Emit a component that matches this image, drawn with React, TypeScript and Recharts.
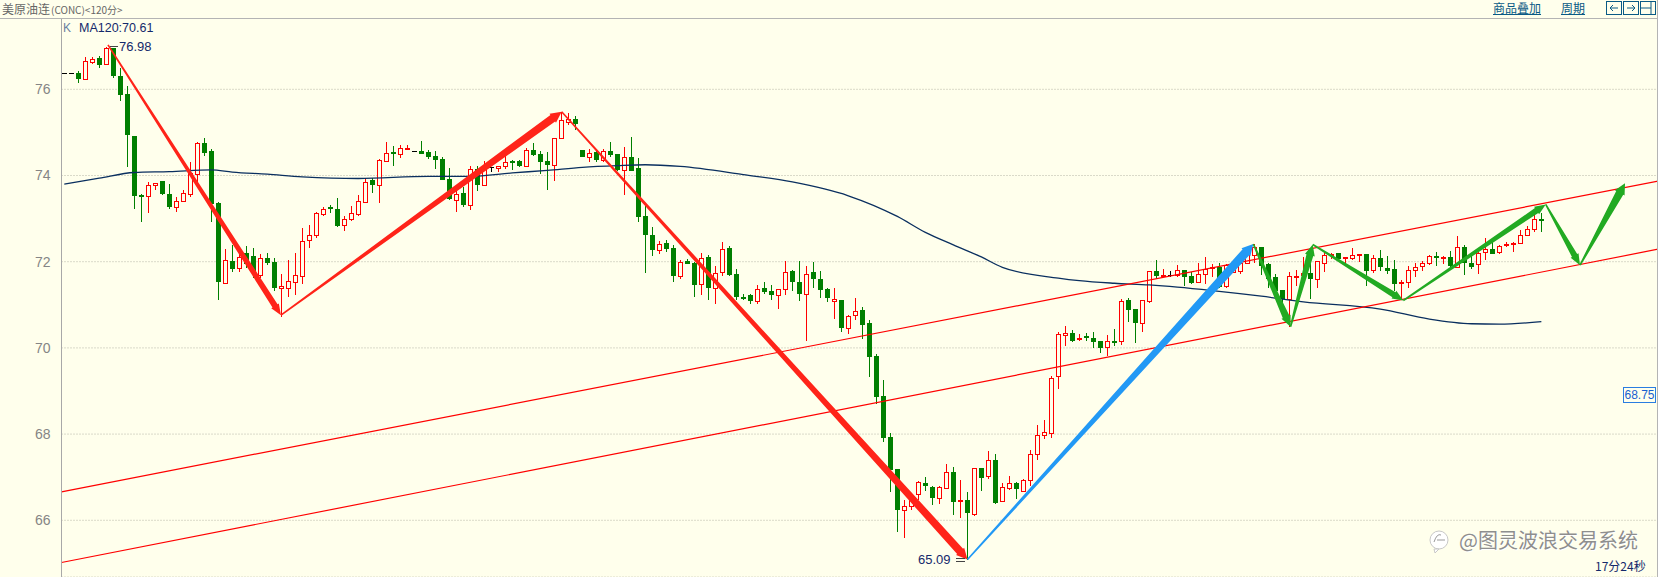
import { ComposedChart, Bar, Line, XAxis, YAxis, CartesianGrid, ReferenceLine } from 'recharts'

const WIDTH = 1658
const HEIGHT = 577
const BG = '#FFFFEC'

// two flat bars at the left edge, then the 120 minute candles
const opens = [
  76.37, 76.37,
  76.37, 76.25, 76.64, 76.72, 76.58, 76.95, 76.32, 75.88, 74.92, 73.54,
  73.52, 73.79, 73.87, 73.57, 73.28, 73.42, 73.56, 74.03, 74.75, 74.57,
  73.36, 71.51, 72.02, 71.85, 72.2, 72.13, 71.68, 72.08, 71.99, 71.38,
  71.4, 71.54, 71.66, 72.51, 72.63, 73.11, 73.27, 73.22, 72.84, 72.98,
  73.1, 73.39, 73.89, 73.78, 74.34, 74.54, 74.51, 74.61, 74.56, 74.56,
  74.54, 74.45, 74.38, 73.91, 73.44, 73.59, 73.32, 74.14, 73.78, 74.19,
  74.18, 74.22, 74.34, 74.33, 74.22, 74.59, 74.49, 74.33, 74.25, 74.88,
  75.25, 75.31, 74.59, 74.43, 74.54, 74.36, 74.56, 74.49, 74.13, 74.43,
  74.17, 73.05, 72.61, 72.28, 72.43, 72.31, 71.67, 72.01, 71.96, 71.49,
  72.1, 71.4, 71.77, 72.31, 71.71, 71.19, 71.22, 71.09, 71.38, 71.31,
  71.22, 71.37, 71.78, 71.54, 71.25, 71.75, 71.61, 71.36, 71.09, 71.1,
  70.47, 70.76, 70.89, 70.57, 69.82, 68.89, 67.94, 67.2, 66.23, 66.32,
  66.61, 66.86, 66.78, 66.51, 66.76, 67.12, 66.44, 66.48, 66.14, 67.22,
  67.02, 67.4, 66.45, 66.74, 66.87, 66.69, 66.93, 67.54, 67.98, 68.02,
  69.34, 70.31, 70.34, 70.2, 70.27, 70.23, 70.16, 70.02, 70.17, 70.16,
  71.1, 70.91, 70.57, 71.09, 71.79, 71.66, 71.68, 71.7, 71.81, 71.67,
  71.52, 71.71, 71.85, 71.87, 71.43, 71.75, 71.79, 71.98, 72.16, 72.33,
  71.95, 71.64, 71.35, 71.13, 71.64, 71.7, 71.74, 71.61, 71.98, 72.16,
  72.21, 72.08, 72.09, 72.15, 72.18, 71.8, 72.09, 71.85, 71.84, 71.5,
  71.52, 71.8, 71.89, 71.96, 72.13, 72.08, 72.12, 71.87, 72.35, 71.98,
  71.95, 72.22, 72.29, 72.22, 72.4, 72.41, 72.43, 72.62, 72.76, 72.99,
]

const closes = [
  76.37, 76.37,
  76.25, 76.65, 76.71, 76.57, 76.95, 76.31, 75.87, 74.95, 73.53, 73.49,
  73.77, 73.82, 73.57, 73.27, 73.42, 73.59, 74.05, 74.75, 74.53, 73.34,
  71.54, 72.03, 71.84, 72.12, 71.95, 71.73, 72.08, 71.96, 71.38, 71.43,
  71.56, 71.68, 72.49, 72.63, 73.12, 73.23, 73.23, 72.82, 73.0, 73.14,
  73.4, 73.86, 73.78, 74.35, 74.53, 74.5, 74.63, 74.63, 74.56, 74.5,
  74.43, 74.36, 73.89, 73.45, 73.58, 73.31, 74.14, 73.78, 74.19, 74.19,
  74.23, 74.32, 74.3, 74.22, 74.59, 74.47, 74.31, 74.24, 74.88, 75.28,
  75.3, 75.19, 74.43, 74.53, 74.36, 74.56, 74.47, 74.12, 74.44, 74.11,
  73.04, 72.62, 72.27, 72.42, 72.29, 71.66, 72.0, 71.95, 71.46, 72.09,
  71.39, 71.74, 72.3, 71.69, 71.18, 71.16, 71.09, 71.37, 71.29, 71.22,
  71.37, 71.77, 71.53, 71.25, 71.72, 71.6, 71.34, 71.16, 71.14, 70.46,
  70.74, 70.85, 70.54, 69.8, 68.87, 67.92, 67.17, 66.23, 66.33, 66.5,
  66.89, 66.79, 66.51, 66.77, 67.12, 66.42, 66.47, 66.16, 67.21, 66.99,
  67.4, 66.41, 66.77, 66.86, 66.72, 66.93, 67.54, 67.98, 68.04, 69.3,
  70.32, 70.34, 70.17, 70.23, 70.25, 70.13, 69.99, 70.16, 70.15, 71.09,
  70.89, 70.57, 71.1, 71.79, 71.66, 71.69, 71.68, 71.81, 71.65, 71.5,
  71.72, 71.83, 71.87, 71.42, 71.92, 71.95, 71.97, 72.18, 72.33, 71.91,
  71.6, 71.33, 71.13, 71.67, 71.67, 71.73, 71.6, 72.02, 72.15, 72.18,
  72.06, 72.12, 72.15, 72.18, 71.79, 72.09, 71.88, 71.79, 71.49, 71.54,
  71.81, 71.88, 71.97, 72.13, 72.09, 72.12, 71.91, 72.34, 71.96, 71.88,
  72.2, 72.29, 72.19, 72.36, 72.42, 72.44, 72.62, 72.76, 72.99, 72.94,
]

const highs = [
  76.37, 76.37,
  76.43, 76.74, 76.74, 76.77, 76.98, 76.96, 76.49, 76.08, 74.92, 73.56,
  73.84, 73.82, 73.87, 73.8, 73.49, 73.66, 74.31, 74.77, 74.87, 74.62,
  73.39, 72.29, 72.38, 72.35, 72.36, 72.32, 72.18, 72.2, 72.08, 71.72,
  72.04, 72.21, 72.78, 72.86, 73.16, 73.26, 73.31, 73.47, 73.07, 73.29,
  73.54, 73.95, 73.94, 74.39, 74.77, 74.68, 74.7, 74.7, 74.56, 74.8,
  74.6, 74.56, 74.42, 74.17, 73.7, 73.73, 74.23, 74.22, 74.33, 74.19,
  74.23, 74.45, 74.37, 74.37, 74.63, 74.75, 74.58, 74.55, 74.88, 75.48,
  75.44, 75.38, 74.6, 74.62, 74.57, 74.62, 74.77, 74.49, 74.65, 74.9,
  74.4, 73.3, 72.8, 72.49, 72.5, 72.38, 72.05, 72.07, 71.99, 72.2,
  72.15, 71.89, 72.45, 72.36, 71.84, 71.26, 71.24, 71.46, 71.52, 71.45,
  71.37, 72.01, 71.8, 72.02, 71.91, 72.0, 71.78, 71.38, 71.4, 71.1,
  70.77, 71.15, 70.95, 70.65, 69.86, 69.26, 68.02, 67.2, 66.48, 66.63,
  66.92, 67.0, 66.8, 66.8, 67.31, 67.23, 66.94, 66.66, 67.21, 67.22,
  67.61, 67.54, 66.87, 67.03, 66.89, 66.96, 67.64, 68.21, 68.32, 69.35,
  70.37, 70.51, 70.41, 70.33, 70.34, 70.38, 70.16, 70.29, 70.44, 71.14,
  71.16, 70.91, 71.1, 71.79, 72.03, 71.83, 71.79, 71.93, 71.81, 71.75,
  71.96, 72.12, 71.95, 71.97, 71.95, 72.02, 72.06, 72.22, 72.41, 72.33,
  71.98, 71.71, 71.35, 71.75, 71.81, 72.12, 72.2, 72.02, 72.25, 72.21,
  72.21, 72.12, 72.32, 72.18, 72.18, 72.15, 72.26, 72.14, 72.04, 71.57,
  71.9, 71.98, 72.01, 72.15, 72.23, 72.13, 72.24, 72.6, 72.39, 72.15,
  72.28, 72.56, 72.49, 72.39, 72.46, 72.46, 72.73, 72.83, 73.11, 73.14,
]

const lows = [
  76.37, 76.37,
  76.15, 76.25, 76.58, 76.49, 76.58, 76.27, 75.74, 74.2, 73.22, 72.93,
  73.14, 73.66, 73.55, 73.22, 73.15, 73.39, 73.51, 73.86, 74.46, 72.91,
  71.1, 71.49, 71.76, 71.75, 71.85, 71.62, 71.62, 71.92, 71.31, 70.72,
  71.18, 71.23, 71.49, 72.32, 72.55, 73.06, 73.13, 72.8, 72.72, 72.95,
  73.06, 73.36, 73.6, 73.37, 74.31, 74.22, 74.4, 74.59, 74.56, 74.5,
  74.38, 74.16, 73.89, 73.43, 73.16, 73.27, 73.2, 73.64, 73.78, 74.08,
  74.08, 74.15, 74.12, 74.19, 74.22, 74.45, 74.03, 73.66, 73.87, 74.88,
  75.17, 75.05, 74.43, 74.31, 74.31, 74.31, 74.43, 74.1, 73.55, 74.11,
  72.92, 71.74, 72.13, 72.18, 72.22, 71.53, 71.6, 71.95, 71.19, 71.22,
  71.12, 71.01, 71.66, 71.67, 71.1, 71.12, 71.01, 71.01, 71.24, 71.11,
  70.9, 71.22, 71.31, 71.09, 70.16, 71.4, 71.16, 71.06, 70.67, 70.38,
  70.32, 70.64, 70.2, 69.32, 68.7, 67.81, 66.65, 65.72, 65.58, 66.25,
  66.48, 66.67, 66.35, 66.38, 66.74, 66.13, 66.06, 65.09, 66.09, 66.69,
  66.96, 66.38, 66.43, 66.71, 66.5, 66.65, 66.79, 67.39, 67.88, 67.92,
  69.04, 70.05, 70.13, 70.15, 70.15, 70.0, 69.88, 69.82, 70.05, 70.06,
  70.61, 70.12, 70.36, 71.05, 71.6, 71.64, 71.64, 71.64, 71.44, 71.48,
  71.52, 71.48, 71.64, 71.4, 71.4, 71.75, 71.71, 71.95, 71.98, 71.68,
  71.4, 71.13, 70.87, 70.48, 71.44, 71.7, 71.13, 71.38, 71.75, 72.06,
  72.04, 71.93, 72.04, 72.0, 71.44, 71.74, 71.79, 71.71, 71.33, 71.1,
  71.38, 71.64, 71.79, 71.93, 71.91, 71.95, 71.87, 71.85, 71.68, 71.82,
  71.71, 72.05, 72.18, 72.19, 72.33, 72.23, 72.43, 72.6, 72.68, 72.7,
]

// MA120, at these bar numbers
const maBars = [0, 5, 10, 15, 21, 24, 29, 34, 42, 52, 58, 64, 69, 74, 79, 83, 88, 97, 104, 112, 119, 123, 127, 131, 134, 142, 145, 150, 155, 159, 164, 171, 177, 188, 195, 201, 205, 211]
const maValues = [73.8, 73.94, 74.07, 74.09, 74.13, 74.08, 74.03, 73.97, 73.93, 73.98, 73.98, 74.06, 74.12, 74.19, 74.23, 74.25, 74.21, 74.02, 73.85, 73.53, 73.05, 72.68, 72.39, 72.11, 71.87, 71.62, 71.56, 71.5, 71.46, 71.41, 71.33, 71.2, 71.07, 70.9, 70.67, 70.56, 70.55, 70.61]

const priceTicks = [66, 68, 70, 72, 74, 76]

const tableData = opens.map((open, i) => {
  const m = maBars.indexOf(i)
  return {
    bar: i,
    open,
    close: closes[i],
    high: highs[i],
    low: lows[i],
    ma: m >= 0 ? maValues[m] : null,
  }
})

// wave legs as [bar, price] pairs, the price channel as two long lines
const channelUpper = [[-0.4, 66.66], [227.66, 73.87]]
const channelLower = [[-0.4, 65.02], [227.66, 72.29]]

const RED = '#FF2419'
const BLUE = '#2299F5'
const GREEN = '#22AA22'

const waves = [
  { from: [6.24, 77.03], to: [30.95, 70.76], color: RED, thick: 6 },
  { from: [30.95, 70.76], to: [71.05, 75.48], color: RED, thick: 8 },
  { from: [71.05, 75.48], to: [129.02, 65.09], color: RED, thick: 8 },
  { from: [129.02, 65.09], to: [169.85, 72.41], color: BLUE, thick: 9 },
  { from: [169.85, 72.41], to: [175.17, 70.49], color: GREEN, thick: 7 },
  { from: [175.17, 70.49], to: [178.34, 72.4], color: GREEN, thick: 7 },
  { from: [178.34, 72.4], to: [191.28, 71.1], color: GREEN, thick: 6 },
  { from: [191.28, 71.1], to: [211.62, 73.33], color: GREEN, thick: 6 },
  { from: [211.62, 73.33], to: [216.52, 71.92], color: GREEN, thick: 6 },
  { from: [216.52, 71.92], to: [222.95, 73.82], color: GREEN, thick: 8 },
]

function Candle(props: any) {
  const { x, y, width, height, payload } = props
  const { open, close, high, low } = payload
  const cx = Math.floor(x + width / 2) + 0.5
  const perUnit = high > low ? height / (high - low) : 0
  const yOpen = Math.round(y + (high - open) * perUnit)
  const yClose = Math.round(y + (high - close) * perUnit)
  const top = Math.min(yOpen, yClose)
  const bottom = Math.max(yOpen, yClose)
  const up = close > open
  const flat = close === open
  const color = flat ? '#000000' : up ? '#FF0000' : '#007F00'
  return (
    <g shapeRendering="crispEdges">
      <line x1={cx} x2={cx} y1={Math.round(y)} y2={Math.round(y + height)} stroke={color} />
      {flat ? (
        <line x1={cx - 2.5} x2={cx + 2.5} y1={top + 0.5} y2={top + 0.5} stroke={color} />
      ) : up ? (
        <rect x={cx - 2} y={top + 0.5} width={4} height={Math.max(bottom - top, 1)} fill={BG} stroke={color} />
      ) : (
        <rect x={cx - 2.5} y={top} width={5} height={Math.max(bottom - top, 2)} fill={color} />
      )}
    </g>
  )
}

// tapered leg: hair thin at the start, thick at the tip with small barbs
const waveShape = (color: string, thick: number) => (props: any) => {
  const { x1, y1, x2, y2 } = props
  const len = Math.hypot(x2 - x1, y2 - y1) || 1
  const ux = (x2 - x1) / len
  const uy = (y2 - y1) / len
  const nx = -uy
  const ny = ux
  const head = Math.min(11, len * 0.3)
  const bx = x2 - ux * head
  const by = y2 - uy * head
  const pts = [
    [x1 + nx * 0.8, y1 + ny * 0.8],
    [bx + (nx * thick) / 2, by + (ny * thick) / 2],
    [bx + (nx * (thick + 3)) / 2, by + (ny * (thick + 3)) / 2],
    [x2, y2],
    [bx - (nx * (thick + 3)) / 2, by - (ny * (thick + 3)) / 2],
    [bx - (nx * thick) / 2, by - (ny * thick) / 2],
    [x1 - nx * 0.8, y1 - ny * 0.8],
  ]
  return <polygon points={pts.map((p) => p.join(',')).join(' ')} fill={color} />
}

const abs = (left: number, top: number, extra: any = {}) => ({
  position: 'absolute' as const,
  left,
  top,
  whiteSpace: 'nowrap' as const,
  lineHeight: 1,
  ...extra,
})

const UI = '"Liberation Sans", sans-serif'
const CJK = '"Noto Sans CJK SC", sans-serif'

export default function App() {
  return (
    <div style={{ position: 'fixed', left: 0, top: 0, width: WIDTH, height: HEIGHT, background: BG, overflow: 'hidden' }}>
      <ComposedChart
        width={WIDTH}
        height={HEIGHT}
        data={tableData}
        margin={{ top: 18.5, right: 0, bottom: 0, left: 0 }}
        barGap={0}
      >
        <CartesianGrid vertical={false} stroke="#B4B4A6" strokeDasharray="1 2" />
        <XAxis type="number" dataKey="bar" domain={[-0.4, 227.66]} hide allowDataOverflow />
        <YAxis
          width={61.5}
          domain={[64.684, 77.643]}
          ticks={priceTicks}
          allowDataOverflow
          tickLine={false}
          stroke="#A8A8A8"
          tickMargin={5}
          tick={{ fill: '#858585', fontSize: 14, fontFamily: UI }}
        />
        <Bar
          dataKey={(d: any) => [d.low, d.high]}
          barSize={6}
          isAnimationActive={false}
          shape={Candle}
          minPointSize={0}
        />
        <Line
          dataKey="ma"
          type="monotone"
          stroke="#0A2F5F"
          strokeWidth={1.3}
          dot={false}
          activeDot={false}
          connectNulls
          isAnimationActive={false}
        />
        {[channelUpper, channelLower].map((c, i) => (
          <ReferenceLine
            key={i}
            segment={[{ x: c[0][0], y: c[0][1] }, { x: c[1][0], y: c[1][1] }]}
            stroke="#FF0000"
            strokeWidth={1.2}
            ifOverflow="visible"
          />
        ))}
        {waves.map((w, i) => (
          <ReferenceLine
            key={i}
            segment={[{ x: w.from[0], y: w.from[1] }, { x: w.to[0], y: w.to[1] }]}
            shape={waveShape(w.color, w.thick)}
            ifOverflow="visible"
          />
        ))}
      </ComposedChart>

      {/* window furniture */}
      <div style={abs(0, 18, { width: WIDTH, height: 1, background: '#B4B4B4' })} />
      <div style={abs(1657, 0, { width: 1, height: HEIGHT, background: '#B4B4B4' })} />
      <div style={abs(2, 3, { fontFamily: CJK, fontSize: 12, color: '#666' })}>
        美原油连<span style={{ fontSize: 10, marginLeft: 1 }}>(CONC)&lt;120分&gt;</span>
      </div>
      <div style={abs(63, 22, { fontFamily: UI, fontSize: 12, color: '#6A7FA0' })}>K</div>
      <div style={abs(79, 22, { fontFamily: UI, fontSize: 12.5, color: '#14296B' })}>MA120:70.61</div>
      <div style={abs(110, 46, { width: 8, height: 1, background: '#444' })} />
      <div style={abs(119, 40, { fontFamily: UI, fontSize: 13, color: '#14296B' })}>76.98</div>
      <div style={abs(918, 553, { fontFamily: UI, fontSize: 13, color: '#14296B' })}>65.09</div>
      <div style={abs(956, 558, { width: 9, height: 1, background: '#444' })} />
      <div style={abs(956, 561, { width: 9, height: 1, background: '#444' })} />
      <div style={abs(1493, 2, { fontFamily: CJK, fontSize: 12, color: '#0A5A85', textDecoration: 'underline' })}>商品叠加</div>
      <div style={abs(1561, 2, { fontFamily: CJK, fontSize: 12, color: '#0A5A85', textDecoration: 'underline' })}>周期</div>
      <svg style={abs(1606, 0)} width={50} height={16} fill="none" stroke="#0A5A85">
        <rect x={0.5} y={1.5} width={15} height={13} />
        <rect x={17.5} y={1.5} width={15} height={13} />
        <rect x={34.5} y={1.5} width={15} height={13} />
        <path d="M12 8H4M7 5L4 8L7 11" />
        <path d="M21 8H29M26 5L29 8L26 11" />
        <path d="M35 8H45M45 2V14" />
      </svg>
      <div
        style={abs(1623, 387, {
          width: 31,
          height: 14,
          border: '1px solid #2A7DE1',
          fontFamily: UI,
          fontSize: 12,
          lineHeight: '14px',
          textAlign: 'center',
          color: '#1A5FD0',
          background: BG,
        })}
      >
        68.75
      </div>
      <svg style={abs(1429, 530)} width={20} height={24}>
        <circle cx={10} cy={10} r={9} fill="#FFFFFF" stroke="#C8C8C8" />
        <path d="M5 19L6 23L10 19Z" fill="#FFFFFF" stroke="#C8C8C8" />
        <path d="M5 12Q8 3 12 5M8 10H16" fill="none" stroke="#999" />
      </svg>
      <div style={abs(1459, 530, { fontFamily: CJK, fontSize: 20, color: '#8E8E8E', textShadow: '1px 1px 0 #FFFFFF' })}>@图灵波浪交易系统</div>
      <div style={abs(1595, 560, { fontFamily: CJK, fontSize: 12, color: '#14296B' })}>17分24秒</div>
    </div>
  )
}
